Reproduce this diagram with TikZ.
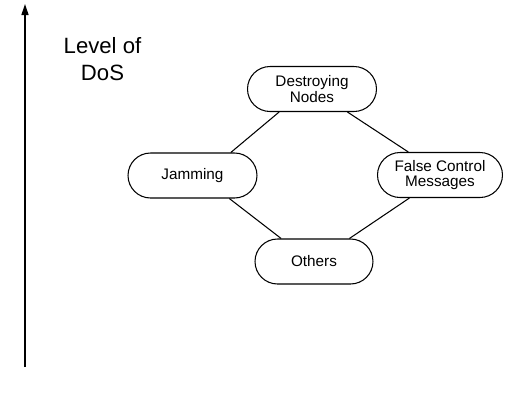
\documentclass[tikz,border=0pt]{standalone}
\usepackage{fontspec}
\setmainfont{Liberation Sans}
\usetikzlibrary{arrows.meta}

\begin{document}
\begin{tikzpicture}[x=0.02cm,y=-0.02cm,
	attack/.style={draw,line width=0.6pt,rounded corners=0.45cm,minimum height=0.9cm,inner sep=0pt,align=center,font=\fontsize{8.7}{8.6}\selectfont},
	link/.style={line width=0.6pt}]
	\useasboundingbox (0,0) rectangle (512,393);

	% vertical axis
	\coordinate (base) at (25,367);
	\coordinate (top) at (25,4);
	\draw [line width=0.8pt,-{Triangle[length=6.3pt,width=4pt]}] (base) -- (top);
	\node (lvl) at (102.5,59) [align=center,font=\fontsize{12.6}{15.4}\selectfont] {Level of\\DoS};

	\node (dn) at (312,89) [attack,minimum width=2.58cm] {Destroying\\Nodes};
	\node (jam) at (192.5,175.5) [attack,minimum width=2.58cm] {Jamming};
	\node (fcm) at (440,175) [attack,minimum width=2.5cm] {False Control\\Messages};
	\node (oth) at (314,261.5) [attack,minimum width=2.36cm] {Others};

	\draw [link] (dn.215) -- (jam.31) (dn.-33) -- (fcm.144) (jam.-32) -- (oth.145) (oth.33) -- (fcm.217);
\end{tikzpicture}
\end{document}
